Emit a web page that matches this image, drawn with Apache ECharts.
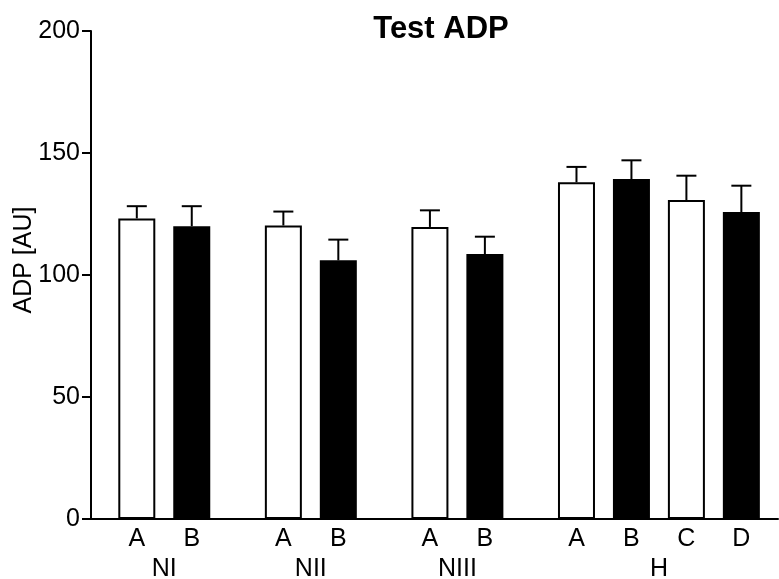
<!DOCTYPE html>
<html lang="en">

<head>
  <script src="https://cdn.jsdelivr.net/npm/echarts@6.0.0/dist/echarts.min.js"></script>
</head>

<body style="margin:0">
  <div id="adpChart" style="width: 779px;height:579px;"></div>

  <script type="text/javascript">

    // chart values
    var groups = ['NI', 'NII', 'NIII', 'H'];
    var subLabels = [['A', 'B'], ['A', 'B'], ['A', 'B'], ['A', 'B', 'C', 'D']];
    var means = [[123.2, 120.0], [120.3, 106.0], [119.7, 108.6], [138.0, 139.3, 130.7, 125.8]];
    var errors = [[5.0, 8.2], [5.7, 8.5], [6.8, 7.1], [6.3, 7.7, 10.0, 10.8]];
    var yTicks = [0, 50, 100, 150, 200];

    var font = 'Liberation Sans, Arial, sans-serif';

    // slots on the category axis: blank slots space out bars and groups
    var LEAD = 5, STEP = 6, GROUP_STEP = 10, TRAIL = 4;

    function buildLayout() {
        var barCats = [], groupCats = [], barData = [], errData = [];
        var idx = 0;
        function blank() {
            barCats.push(''); groupCats.push(''); barData.push('-');
            idx++;
        }
        for (var i = 0; i < LEAD; i++) blank();
        groups.forEach(function (g, gi) {
            var firstIdx = idx;
            subLabels[gi].forEach(function (s, si) {
                if (si > 0) for (var k = 0; k < STEP - 1; k++) blank();
                barCats.push(s); groupCats.push('');
                barData.push({
                    value: means[gi][si],
                    itemStyle: { color: si % 2 === 0 ? '#ffffff' : '#000000' }
                });
                errData.push([idx, means[gi][si], errors[gi][si]]);
                idx++;
            });
            var center = (firstIdx + idx - 1) / 2;
            groupCats[center] = g;
            if (gi < groups.length - 1) for (var k = 0; k < GROUP_STEP - 1; k++) blank();
        });
        for (var i = 0; i < TRAIL; i++) blank();
        return { barCats: barCats, groupCats: groupCats, barData: barData, errData: errData };
    }

    function createChart() {
        var chart = echarts.init(document.getElementById('adpChart'));
        var layout = buildLayout();

        var option = {
            animation: false,
            backgroundColor: '#ffffff',
            title: {
                text: 'Test ADP',
                left: 436,
                textAlign: 'center',
                top: -2,
                textStyle: { fontFamily: font, fontSize: 31, fontWeight: 'bold', color: '#000' }
            },
            grid: { left: 91, right: 1, top: 31, bottom: 60, containLabel: false, outerBoundsMode: 'none' },
            xAxis: [
                {
                    type: 'category',
                    data: layout.barCats,
                    boundaryGap: false,
                    axisLine: { lineStyle: { color: '#000', width: 2 } },
                    axisTick: { show: false },
                    axisLabel: { interval: 0, color: '#000', fontFamily: font, fontSize: 25, margin: -1 }
                },
                {
                    type: 'category',
                    position: 'bottom',
                    offset: 30,
                    data: layout.groupCats,
                    boundaryGap: false,
                    axisLine: { show: false },
                    axisTick: { show: false },
                    axisLabel: { interval: 0, color: '#000', fontFamily: font, fontSize: 25, margin: -1 }
                }
            ],
            yAxis: {
                type: 'value',
                min: yTicks[0],
                max: yTicks[yTicks.length - 1],
                interval: yTicks[1] - yTicks[0],
                name: 'ADP [AU]',
                nameLocation: 'middle',
                nameGap: 45,
                nameMoveOverlap: false,
                nameTextStyle: { fontFamily: font, fontSize: 25, color: '#000', padding: [0, 0, 0, 30] },
                splitLine: { show: false },
                axisLine: { show: true, lineStyle: { color: '#000', width: 2 } },
                axisTick: { show: true, length: 9, lineStyle: { color: '#000', width: 2 } },
                axisLabel: { color: '#000', fontFamily: font, fontSize: 25, margin: 11 }
            },
            series: [
                {
                    type: 'bar',
                    xAxisIndex: 0,
                    data: layout.barData,
                    barWidth: 37,
                    itemStyle: { borderColor: '#000', borderWidth: 2 }
                },
                {
                    type: 'custom',
                    xAxisIndex: 0,
                    data: layout.errData,
                    z: 1,
                    renderItem: function (params, api) {
                        var base = api.coord([api.value(0), api.value(1)]);
                        var top = api.coord([api.value(0), api.value(1) + api.value(2)]);
                        var style = { stroke: '#000', lineWidth: 2 };
                        return {
                            type: 'group',
                            children: [
                                { type: 'line', shape: { x1: base[0], y1: base[1], x2: top[0], y2: top[1] }, style: style },
                                { type: 'line', shape: { x1: top[0] - 10, y1: top[1], x2: top[0] + 10, y2: top[1] }, style: style }
                            ]
                        };
                    }
                }
            ]
        };

        chart.setOption(option);
    }
    createChart();
  </script>
</body>

</html>
